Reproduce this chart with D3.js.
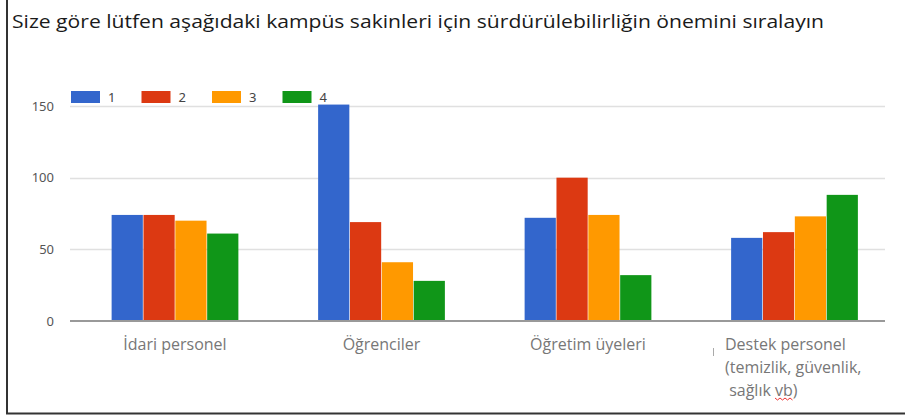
<!DOCTYPE html>
<html>
<head>
<meta charset="utf-8">
<script src="https://cdn.jsdelivr.net/npm/d3@7"></script>
<style>
  body { margin: 0; background: #fff; }
  svg { display: block; }
</style>
</head>
<body>
<div id="chart"></div>
<script>
// data
var categories = ["İdari personel", "Öğrenciler", "Öğretim üyeleri", "Destek personel"];
var seriesNames = ["1", "2", "3", "4"];
var s1 = [74, 151, 72, 58];
var s2 = [74, 69, 100, 62];
var s3 = [70, 41, 74, 73];
var s4 = [61, 28, 32, 88];
var yTicks = [0, 50, 100, 150];
var colors = ["#3366cc", "#dc3912", "#ff9900", "#109618"];
var titleText = "Size göre lütfen aşağıdaki kampüs sakinleri için sürdürülebilirliğin önemini sıralayın";
var lastLabelLines = ["Destek personel", "(temizlik, güvenlik,", " sağlık vb)"];

var W = 905, H = 416;
var plotLeft = 70, plotRight = 885, plotTop = 106, plotBottom = 321;

var svg = d3.select("#chart").append("svg")
  .attr("width", W)
  .attr("height", H);

// frame (left + bottom edges of the screenshot box)
svg.append("line").attr("x1", 7).attr("x2", 7).attr("y1", 0).attr("y2", 414)
  .attr("stroke", "#333").attr("stroke-width", 2);
svg.append("line").attr("x1", 6).attr("x2", W).attr("y1", 413.5).attr("y2", 413.5)
  .attr("stroke", "#333").attr("stroke-width", 2);

// title
svg.append("text")
  .attr("x", 12).attr("y", 28)
  .attr("textLength", 812).attr("lengthAdjust", "spacingAndGlyphs")
  .style("font-family", "'Open Sans', sans-serif")
  .style("font-size", "19px")
  .style("fill", "#1a1a1a")
  .text(titleText);

var y = d3.scaleLinear().domain([0, 150]).range([plotBottom, plotTop]);

var x0 = d3.scaleBand()
  .domain(categories)
  .range([71.75, 897.75])
  .paddingInner(0.38)
  .paddingOuter(0.19);

var x1 = d3.scaleBand()
  .domain(seriesNames)
  .range([0, x0.bandwidth()])
  .padding(0.02);

// grid lines
svg.append("g").selectAll("line")
  .data(yTicks.filter(function(d) { return d > 0; }))
  .enter().append("line")
  .attr("x1", plotLeft).attr("x2", plotRight)
  .attr("y1", function(d) { return Math.round(y(d)) + 0.5; })
  .attr("y2", function(d) { return Math.round(y(d)) + 0.5; })
  .attr("stroke", "#e0e0e0").attr("stroke-width", 1.5);

// y tick labels
svg.append("g").selectAll("text")
  .data(yTicks)
  .enter().append("text")
  .attr("x", 54)
  .attr("y", function(d) { return y(d); })
  .attr("dy", "0.35em")
  .attr("text-anchor", "end")
  .style("font-family", "'Noto Sans', sans-serif")
  .style("font-size", "13px")
  .style("fill", "#555")
  .text(function(d) { return d; });

// bars
var allSeries = [s1, s2, s3, s4];
var rows = categories.map(function(c, i) {
  return { cat: c, vals: seriesNames.map(function(s, j) { return { key: s, value: allSeries[j][i], color: colors[j] }; }) };
});

var groups = svg.append("g").selectAll("g")
  .data(rows)
  .enter().append("g")
  .attr("transform", function(d) { return "translate(" + x0(d.cat) + ",0)"; });

groups.selectAll("rect")
  .data(function(d) { return d.vals; })
  .enter().append("rect")
  .attr("x", function(d) { return x1(d.key); })
  .attr("y", function(d) { return y(d.value); })
  .attr("width", x1.bandwidth())
  .attr("height", function(d) { return plotBottom - y(d.value); })
  .attr("fill", function(d) { return d.color; });

// baseline
svg.append("line")
  .attr("x1", plotLeft).attr("x2", plotRight)
  .attr("y1", plotBottom).attr("y2", plotBottom)
  .attr("stroke", "#999").attr("stroke-width", 2);

// legend
var legend = svg.append("g").selectAll("g")
  .data(seriesNames)
  .enter().append("g")
  .attr("transform", function(d, i) { return "translate(" + (71 + i * 70.5) + ",91)"; });
legend.append("rect")
  .attr("width", 29).attr("height", 12)
  .attr("fill", function(d, i) { return colors[i]; });
legend.append("text")
  .attr("x", 37).attr("y", 6).attr("dy", "0.35em")
  .style("font-family", "'Noto Sans', sans-serif")
  .style("font-size", "13px")
  .style("fill", "#444")
  .text(function(d) { return d; });

// category labels
var labelFont = "'Open Sans', sans-serif";
svg.append("g").selectAll("text")
  .data(categories.slice(0, 3))
  .enter().append("text")
  .attr("x", function(d) { return x0(d) + x0.bandwidth() / 2; })
  .attr("y", 350)
  .attr("text-anchor", "middle")
  .style("font-family", labelFont)
  .style("font-size", "16px")
  .style("fill", "#777")
  .text(function(d) { return d; });

var last = svg.append("text")
  .style("font-family", labelFont)
  .style("font-size", "16px")
  .style("fill", "#777");
last.selectAll("tspan")
  .data(lastLabelLines)
  .enter().append("tspan")
  .attr("x", 725)
  .attr("y", function(d, i) { return 350 + i * 23; })
  .attr("xml:space", "preserve")
  .text(function(d) { return d; });

// little cursor mark left of the last label
svg.append("line").attr("x1", 713.5).attr("x2", 713.5).attr("y1", 348).attr("y2", 356)
  .attr("stroke", "#aaa").attr("stroke-width", 1);

// spell-check squiggle under "vb"
var t3 = last.selectAll("tspan").nodes()[2];
var vbStart = lastLabelLines[2].indexOf("vb");
var sx = 775, ex = 797;
try {
  var full = last.node();
  var offset = lastLabelLines[0].length + lastLabelLines[1].length;
  sx = full.getStartPositionOfChar(offset + vbStart).x;
  ex = full.getEndPositionOfChar(offset + vbStart + 1).x;
} catch (e) {}
var sq = d3.range(sx, ex + 0.1, 2.5).map(function(px, i) { return [px, 398 + (i % 2 ? 2 : 0)]; });
svg.append("path")
  .attr("d", d3.line()(sq))
  .attr("fill", "none").attr("stroke", "#e33").attr("stroke-width", 1);
</script>
</body>
</html>
